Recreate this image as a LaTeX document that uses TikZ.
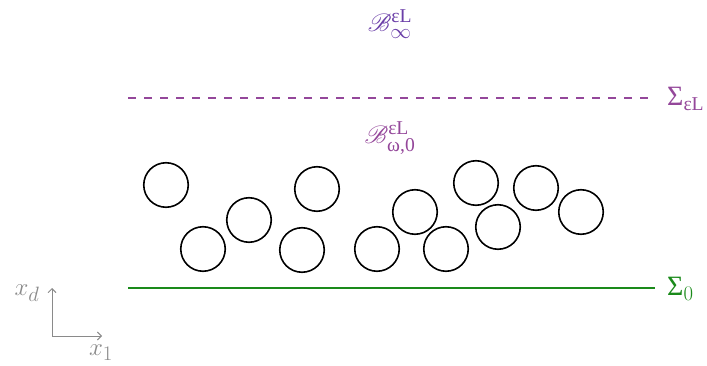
\documentclass[tikz,border=0pt]{standalone}
\usepackage{amsmath}
\usepackage{fontspec}
\usepackage{mathrsfs}
\usetikzlibrary{arrows.meta}
\newfontfamily\grk{Liberation Serif}
\definecolor{pvio}{HTML}{6B3FA8}
\definecolor{pmag}{HTML}{94479A}
\definecolor{pgrn}{HTML}{1A8A1A}
\definecolor{axg}{HTML}{8A8A8A}
\begin{document}
\begin{tikzpicture}[x=1pt,y=-1pt,
  grain/.style={draw=black,line width=1.6pt,circle,minimum size=44.5pt,inner sep=0pt},
  lbl/.style={font=\fontsize{28}{34}\selectfont,inner sep=0pt}]
\useasboundingbox (0,0) rectangle (707,366);
% interfaces
\coordinate (dL) at (128,98); \coordinate (dR) at (655,98);
\coordinate (gL) at (128,288); \coordinate (gR) at (655,288);
\draw[pmag,line width=1.8pt,dash pattern=on 8pt off 8pt] (dL) -- (dR);
\draw[pgrn,line width=1.6pt] (gL) -- (gR);
\node[lbl,pmag,anchor=west] (sL) at (667,99) {{\grk Σ}$_{\text{\grk εL}}$};
\node[lbl,pgrn,anchor=west] (s0) at (667,289) {{\grk Σ}$_0$};
\node[lbl,pvio] (Binf) at (390,24) {$\mathscr{B}_{\infty}^{\text{\grk εL}}$};
\node[lbl,pmag] (Bw) at (390,138) {$\mathscr{B}_{\text{\grk ω,0}}^{\text{\grk εL}}$};
% grains
\foreach \n/\x/\y in {1/166/185,2/249/220,3/203/249,4/317/189,5/302/250,6/377/249,7/415/212,8/446/249,9/476/183,10/498/227,11/536/188,12/581/212}
  \node[grain] (g\n) at (\x,\y) {};
% axes
\coordinate (O) at (52,336); \coordinate (Ay) at (52,288); \coordinate (Ax) at (102,336);
\draw[axg,line width=0.9pt,-{Straight Barb[length=4pt]}] (O) -- (Ay);
\draw[axg,line width=0.9pt,-{Straight Barb[length=4pt]}] (O) -- (Ax);
\node[lbl,axg] (xd) at (27,293) {$x_d$};
\node[lbl,axg] (x1) at (101,353) {$x_1$};
\end{tikzpicture}
\end{document}
